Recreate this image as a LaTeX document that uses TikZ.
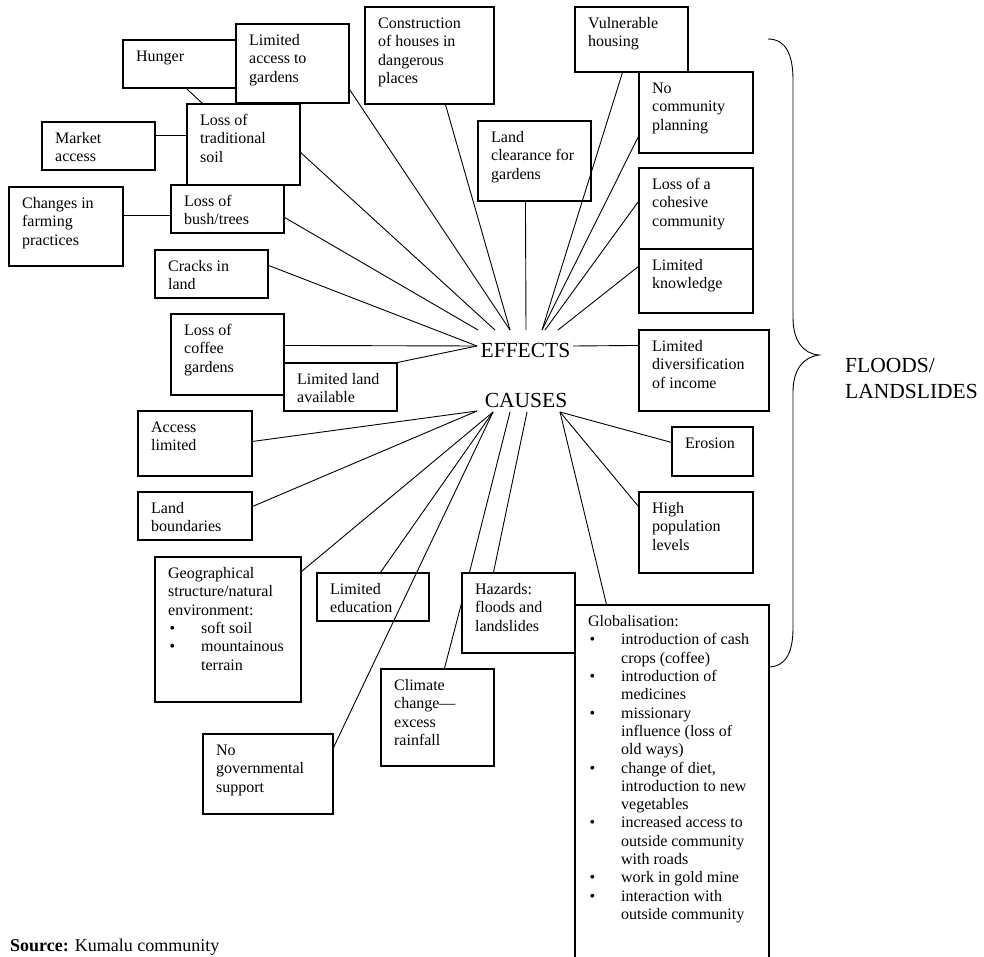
\documentclass[tikz,border=0pt]{standalone}
\usepackage{fontspec}
\setmainfont{Liberation Serif}
\usetikzlibrary{fit,calc}
\newcommand{\bitem}{\makebox[33pt][l]{\hspace{1.5pt}\textbullet}}
\newcommand{\bcont}{\hspace*{33pt}}
\newcommand{\bx}[5][]{%
  \node[bxs, fit={(#3) (#4)}, #1] (#2) {};
  \node[bxt] (#2-t) at ($(#2.north west)+(13.5,9.2)$) {\strut #5};}
\begin{document}
\begin{tikzpicture}[x=1pt,y=-1pt,
  bxs/.style={draw=black, line width=1.1pt, inner sep=0pt},
  bxt/.style={anchor=north west, inner sep=0pt, align=left, font=\fontsize{16}{18.3}\selectfont},
  ln/.style={draw=black, line width=0.9pt},
  big/.style={font=\fontsize{21.5}{26}\selectfont, inner sep=0pt}]
\useasboundingbox (0,0) rectangle (984,957);
\clip (0,0) rectangle (984,957);

% ---------- boxes: effects side ----------
\bx{hunger}{123,40}{236,88}{Hunger}
\bx{limacc}{236,24}{349,103}{Limited\\access to\\gardens}
\bx{trad}{187,104}{300,185}{Loss of\\traditional\\soil}
\bx{market}{42,122}{155,170}{Market\\access}
\bx{changes}{9,187}{123,266}{Changes in\\farming\\practices}
\bx{bush}{171,185}{284,233}{Loss of\\bush/trees}
\bx{cracks}{155,250}{268,298}{Cracks in\\land}
\bx{coffee}{171,314}{284,395}{Loss of\\coffee\\gardens}
\bx{limland}{284,363}{397,411}{Limited land\\available}
\bx{constr}{365,7}{494,104}{Construction\\of houses in\\dangerous\\places}
\bx{clear}{478,121}{591,201}{Land\\clearance for\\gardens}
\bx{vuln}{575,7}{688,72}{Vulnerable\\housing}
\bx{nocomm}{639,72}{753,153}{No\\community\\planning}
\bx{cohes}{639,168}{753,249}{Loss of a\\cohesive\\community}
\bx{know}{639,249}{753,313}{Limited\\knowledge}
\bx{divers}{639,330}{769,411}{Limited\\diversification\\of income}

% ---------- boxes: causes side ----------
\bx{eros}{672,427}{753,476}{Erosion}
\bx{highpop}{639,492}{753,573}{High\\population\\levels}
\bx{access}{138,411}{252,476}{Access\\limited}
\bx{landb}{138,492}{252,540}{Land\\boundaries}
\bx{geo}{155,557}{301,702}{Geographical\\structure/natural\\environment:\\\bitem soft soil\\\bitem mountainous\\\bcont terrain}
\bx{educ}{317,573}{429,621}{Limited\\education}
\bx{nogov}{203,734}{333,814}{No\\governmental\\support}
\bx{haz}{462,573}{575,653}{Hazards:\\floods and\\landslides}
\bx{clim}{381,669}{494,766}{Climate\\change—\\excess\\rainfall}
\bx{glob}{575,605}{769,975}{Globalisation:\\\bitem introduction of cash\\\bcont crops (coffee)\\\bitem introduction of\\\bcont medicines\\\bitem missionary\\\bcont influence (loss of\\\bcont old ways)\\\bitem change of diet,\\\bcont introduction to new\\\bcont vegetables\\\bitem increased access to\\\bcont outside community\\\bcont with roads\\\bitem work in gold mine\\\bitem interaction with\\\bcont outside community}

% ---------- central labels ----------
\node[big, anchor=base] (effects) at (525.5,357) {EFFECTS};
\node[big, anchor=base] (causes) at (526,407) {CAUSES};
\node[big, anchor=north west, align=left] (floods) at (845,353.8) {\strut FLOODS/\\LANDSLIDES};

% hub points
\coordinate (eL) at (477,346);
\coordinate (eT1) at (478,330);
\coordinate (eT2) at (495,330);
\coordinate (eT3) at (510,330);
\coordinate (eT4) at (526,330);
\coordinate (eT5) at (542,330);
\coordinate (eT6) at (545,330);
\coordinate (eT7) at (558,330);
\coordinate (eR) at (573,346);
\coordinate (cL) at (477,411);
\coordinate (c1) at (493,412);
\coordinate (c2) at (510,412);
\coordinate (c3) at (527,412);
\coordinate (cR) at (560,412);

% ---------- connectors: effects ----------
\draw[ln] ($(hunger.south west)+(64,0)$) -- ($(trad.north west)+(16,0)$);
\draw[ln] ($(market.north east)+(0,14)$) -- ($(trad.north west)+(0,32)$);
\draw[ln] ($(changes.north east)+(0,29)$) -- ($(bush.north west)+(0,31)$);
\draw[ln] ($(limacc.north east)+(0,66)$) -- (eT3);
\draw[ln] ($(constr.south west)+(81,0)$) -- (eT3);
\draw[ln] ($(trad.north east)+(0,49)$) -- (eT2);
\draw[ln] ($(bush.north east)+(0,33)$) -- (eT1);
\draw[ln] ($(cracks.north east)+(0,16)$) -- (eL);
\draw[ln] ($(coffee.north east)+(0,32)$) -- (eL);
\draw[ln] (limland.north east) -- (eL);
\draw[ln] ($(clear.south west)+(48,0)$) -- (eT4);
\draw[ln] ($(vuln.south west)+(48,0)$) -- (eT5);
\draw[ln] ($(nocomm.north west)+(0,65)$) -- (eT5);
\draw[ln] ($(cohes.north west)+(0,34)$) -- (eT6);
\draw[ln] ($(know.north west)+(0,18)$) -- (eT7);
\draw[ln] (eR) -- ($(divers.north west)+(0,16)$);

% ---------- connectors: causes ----------
\draw[ln] ($(access.north east)+(0,31)$) -- (cL);
\draw[ln] ($(landb.north east)+(0,15)$) -- (cL);
\draw[ln] ($(geo.north east)+(0,15)$) -- (c1);
\draw[ln] ($(educ.north west)+(64,0)$) -- (c1);
\draw[ln] ($(nogov.north east)+(0,14)$) -- (c1);
\draw[ln] ($(haz.north west)+(8,0)$) -- (c2);
\draw[ln] ($(haz.north west)+(32,0)$) -- (c3);
\draw[ln] ($(clim.north west)+(64,0)$) -- ($(haz.north west)+(0,31)$);
\draw[ln] ($(eros.north west)+(0,16)$) -- (cR);
\draw[ln] ($(highpop.north west)+(0,15)$) -- (cR);
\draw[ln] ($(glob.north west)+(32,0)$) -- (cR);

% ---------- brace ----------
\draw[ln] (768,39) .. controls (786,39) and (793,55) .. (793,80) -- (793,318)
  .. controls (793,340) and (803,354) .. (819,355)
  .. controls (803,357) and (793,370) .. (793,392) -- (793,628)
  .. controls (793,652) and (786,667) .. (768,667);

% ---------- source ----------
\node[anchor=base west, inner sep=0pt, font=\fontsize{18}{21}\selectfont] (src) at (10,951) {\textbf{Source:} Kumalu community};
\end{tikzpicture}
\end{document}
